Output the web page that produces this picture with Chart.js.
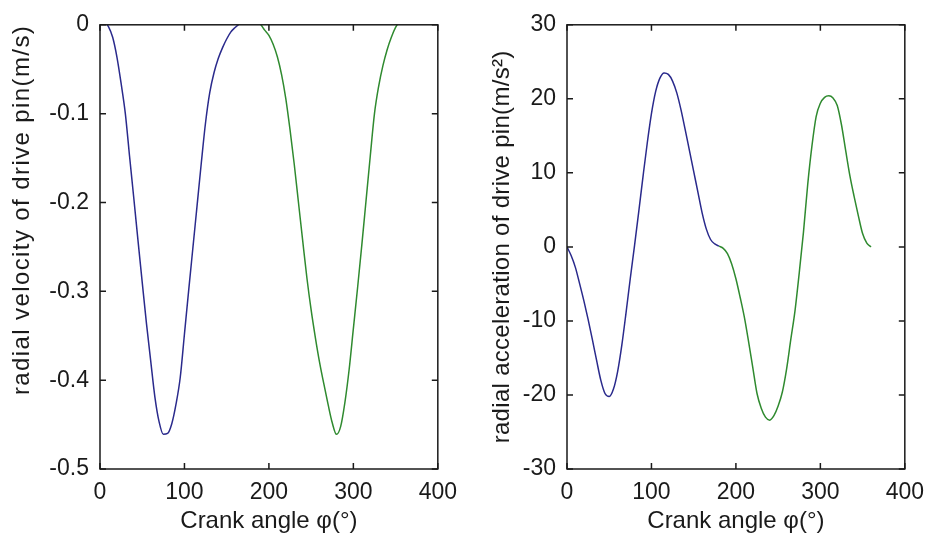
<!DOCTYPE html>
<html><head><meta charset="utf-8">
<script src="https://cdn.jsdelivr.net/npm/chart.js@4.4.1/dist/chart.umd.min.js"></script>
<style>
html,body{margin:0;padding:0;background:#fff;}
#wrap{position:relative;width:934px;height:540px;background:#fff;}
.box{position:absolute;top:0;width:467px;height:540px;}
</style></head>
<body><div id="wrap">
<div class="box" style="left:0"><canvas id="c1" width="467" height="540"></canvas></div>
<div class="box" style="left:467px"><canvas id="c2" width="467" height="540"></canvas></div>
</div>
<script>
// ---- data ----
const angleBlue  = [0,5,10,15,20,25,30,35,40,45,50,55,60,65,70,75,80,85,90,95,100,105,110,115,120,125,130,135,140,145,150,155,160,165,170,175,180];
const angleGreen = [180,185,190,195,200,205,210,215,220,225,230,235,240,245,250,255,260,265,270,275,280,285,290,295,300,305,310,315,320,325,330,335,340,345,350,355,360];
const velBlue  = [0.012,0.004,-0.002,-0.014,-0.036,-0.066,-0.1,-0.148,-0.195,-0.243,-0.29,-0.336,-0.378,-0.419,-0.447,-0.461,-0.46,-0.449,-0.427,-0.397,-0.348,-0.299,-0.251,-0.203,-0.155,-0.11,-0.076,-0.054,-0.038,-0.026,-0.016,-0.008,-0.003,0.001,0.004,0.006,0.007];
const velGreen = [0.007,0.004,0.0005,-0.006,-0.012,-0.022,-0.036,-0.056,-0.083,-0.118,-0.157,-0.2,-0.243,-0.285,-0.321,-0.352,-0.38,-0.404,-0.427,-0.448,-0.461,-0.452,-0.425,-0.388,-0.342,-0.296,-0.248,-0.198,-0.148,-0.1,-0.069,-0.046,-0.028,-0.014,-0.003,0.004,0.008];
const accBlue  = [0,-1.2,-2.8,-5,-7.3,-9.8,-12.5,-15.3,-18,-19.8,-20.2,-19.2,-16.8,-13.2,-8.8,-4.2,0.2,4.8,9.5,14,18,21,22.8,23.5,23.3,22.4,20.8,18.5,15.8,13,10.2,7.4,4.6,2.4,1.0,0.4,0.1];
const accGreen = [0.1,-0.2,-0.9,-2.3,-4.3,-6.8,-9.5,-12.8,-16.3,-19.8,-21.8,-23,-23.4,-22.8,-21.5,-19.6,-16.5,-12.5,-8.6,-3.5,2,8.4,13.6,17.6,19.4,20.2,20.4,20.1,19.1,16.5,13,9.6,6.8,4.2,1.8,0.5,0];
const xTicks   = [0,100,200,300,400];
const velTicks = [0,-0.1,-0.2,-0.3,-0.4,-0.5];
const accTicks = [30,20,10,0,-10,-20,-30];

const FONT = "'Liberation Sans',Arial,sans-serif";
const BLUE = '#2a2a8c', GREEN = '#2f8a2f', INK = '#1a1a1a';

const framePlugin = {
  id: 'frame',
  afterLayout(chart) {
    const y = chart.scales.y;
    if (y && !y._lsPatched) {
      const orig = y.drawTitle;
      const ls = chart.options.plugins.frame.titleSpacing;
      y.drawTitle = function () {
        this.ctx.save();
        this.ctx.letterSpacing = ls + 'px';
        orig.apply(this, arguments);
        this.ctx.restore();
      };
      y._lsPatched = true;
    }
  },
  afterDatasetsDraw(chart) {
    const {ctx, chartArea: a, scales: {x, y}} = chart;
    ctx.save();
    ctx.strokeStyle = INK; ctx.lineWidth = 1.5;
    ctx.strokeRect(a.left, a.top, a.right - a.left, a.bottom - a.top);
    const L = 6;
    ctx.beginPath();
    x.ticks.forEach(t => { const p = x.getPixelForValue(t.value);
      ctx.moveTo(p, a.bottom); ctx.lineTo(p, a.bottom - L);
      ctx.moveTo(p, a.top); ctx.lineTo(p, a.top + L); });
    y.ticks.forEach(t => { const p = y.getPixelForValue(t.value);
      ctx.moveTo(a.left, p); ctx.lineTo(a.left + L, p);
      ctx.moveTo(a.right, p); ctx.lineTo(a.right - L, p); });
    ctx.stroke();
    ctx.restore();
  }
};

function pts(xs, ys) { return xs.map((v, i) => ({x: v, y: ys[i]})); }

function makeChart(id, yb, yg, yTicks, yTitle, titlePad, titleAlign, spacing) {
  const tickFont = {family: FONT, size: 23};
  const titleFont = {family: FONT, size: 24};
  return new Chart(document.getElementById(id), {
    type: 'line',
    data: { datasets: [
      {data: pts(angleBlue, yb), borderColor: BLUE, borderWidth: 1.5, pointRadius: 0, cubicInterpolationMode: 'monotone', fill: false},
      {data: pts(angleGreen, yg), borderColor: GREEN, borderWidth: 1.5, pointRadius: 0, cubicInterpolationMode: 'monotone', fill: false}
    ]},
    options: {
      responsive: false, animation: false, devicePixelRatio: 1,
      layout: {padding: {top: 18, right: 21, left: 0, bottom: 0}},
      plugins: {legend: {display: false}, tooltip: {enabled: false}, frame: {titleSpacing: spacing}},
      scales: {
        x: {
          type: 'linear', min: xTicks[0], max: xTicks[xTicks.length - 1],
          afterBuildTicks: s => { s.ticks = xTicks.map(v => ({value: v})); },
          afterFit: s => { s.height = 71; },
          grid: {display: false, drawTicks: false}, border: {display: false},
          ticks: {font: tickFont, color: INK, padding: 10, maxRotation: 0},
          title: {display: true, text: 'Crank angle φ(°)', font: titleFont, color: INK, padding: {top: 0, bottom: 4}}
        },
        y: {
          type: 'linear', min: Math.min(...yTicks), max: Math.max(...yTicks),
          afterBuildTicks: s => { s.ticks = yTicks.map(v => ({value: v})); },
          afterFit: s => { s.width = 100; },
          grid: {display: false, drawTicks: false}, border: {display: false},
          ticks: {font: tickFont, color: INK, padding: 11},
          title: {display: true, text: yTitle, font: titleFont, color: INK, align: titleAlign, padding: {top: titlePad, bottom: 0}}
        }
      }
    },
    plugins: [framePlugin]
  });
}

makeChart('c1', velBlue, velGreen, velTicks, 'radial velocity of drive pin(m/s)', 8, 'end', 1.4);
makeChart('c2', accBlue, accGreen, accTicks, 'radial acceleration of drive pin(m/s²)', 21, 'center', 0.3);
</script>
</body></html>
